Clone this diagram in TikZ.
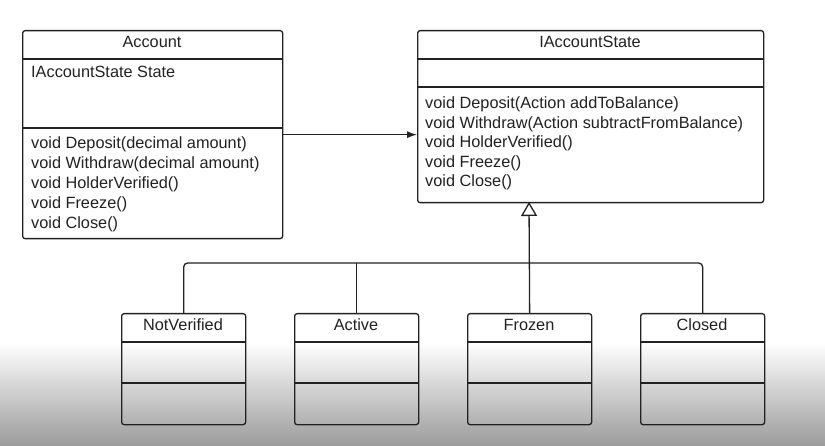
\documentclass[tikz,border=0pt]{standalone}
\usepackage{fontspec}
\setmainfont{Liberation Sans}
\usetikzlibrary{arrows.meta}
\definecolor{ink}{RGB}{34,34,34}
\definecolor{shadebot}{RGB}{155,155,155}
\begin{document}
\begin{tikzpicture}[x=1pt,y=-1pt,
  umlbox/.style={draw=ink,line width=1.3pt,rounded corners=2.5pt,inner sep=0pt,anchor=north west},
  divider/.style={draw=ink,line width=1.3pt},
  conn/.style={draw=ink,line width=1.3pt},
  txt/.style={font=\fontsize{16.3}{20}\selectfont,text=ink,inner sep=0pt,anchor=base west},
  ttl/.style={font=\fontsize{16.3}{20}\selectfont,text=ink,inner sep=0pt,anchor=base}]
\useasboundingbox (0,0) rectangle (825,446);
\fill[white] (0,0) rectangle (825,446);
\shade[top color=white,bottom color=shadebot] (0,343) rectangle (825,446);

% Account
\node[umlbox,minimum width=260pt,minimum height=208pt] (acc) at (22,30) {};
\draw[divider] (22,59) -- (282,59);
\draw[divider] (22,128) -- (282,128);
\node[ttl] (acctitle) at (152,48) {Account};
\node[txt] (accattr) at (31,78) {IAccountState State};
\foreach \t [count=\i] in {void Deposit(decimal amount),void Withdraw(decimal amount),void HolderVerified(),void Freeze(),void Close()}
  \node[txt] (accm\i) at (31,129+20*\i) {\t};

% IAccountState
\node[umlbox,minimum width=346pt,minimum height=172pt] (ias) at (417,30) {};
\draw[divider] (417,59) -- (763,59);
\draw[divider] (417,87) -- (763,87);
\node[ttl] (iastitle) at (590,48) {IAccountState};
\foreach \t [count=\i] in {void Deposit(Action addToBalance),void Withdraw(Action subtractFromBalance),void HolderVerified(),void Freeze(),void Close()}
  \node[txt] (iasm\i) at (425,89+19.6*\i) {\t};

% state classes
\foreach \n/\x/\l in {nv/121/NotVerified,ac/294/Active,fr/467/Frozen,cl/640/Closed}{
  \node[umlbox,minimum width=124pt,minimum height=111pt] (\n) at (\x,313) {};
  \draw[divider] (\x,342) -- (\x+124,342);
  \draw[divider] (\x,383) -- (\x+124,383);
  \node[ttl] (\n title) at (\x+62,331) {\l};
}

% association
\draw[conn,-{Latex[length=10pt,width=7pt]}] (acc.east) -- (acc.east -| ias.west);

% generalization
\coordinate (tip) at (529,202);
\coordinate (bus) at (529,263);
\draw[conn,rounded corners=4pt] (nv.north) |- (bus) -| (cl.north);
\draw[conn] (ac.north) -- (ac.north |- bus);
\draw[conn,-{Triangle[open,length=14pt,width=16pt,line width=1.3pt]}] (fr.north) -- (tip);
\end{tikzpicture}
\end{document}
